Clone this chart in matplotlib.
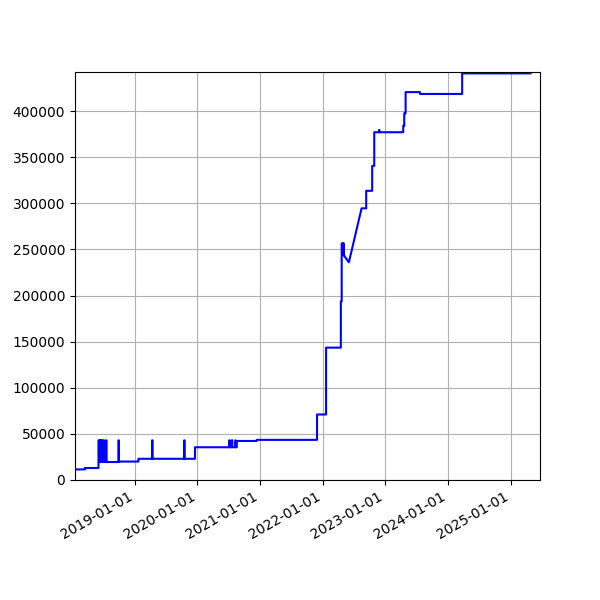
import numpy as np
import pandas as pd
import matplotlib
matplotlib.use("Agg")
import matplotlib.pyplot as plt
import matplotlib.dates as mdates

# dates where the value changes, and the value from that date on
change_dates = [
    "2018-01-17", "2018-03-16", "2018-06-03", "2018-06-08", "2018-06-11",
    "2018-06-16", "2018-06-20", "2018-06-27", "2018-07-03", "2018-07-06",
    "2018-07-17", "2018-07-20", "2018-09-28", "2018-09-30", "2019-01-22",
    "2019-04-12", "2019-04-14", "2019-10-16", "2019-10-18", "2019-12-18",
    "2020-07-05", "2020-07-08", "2020-07-20", "2020-07-23", "2020-08-10",
    "2020-08-12", "2020-08-18", "2020-12-13", "2021-11-29", "2022-01-21",
    "2022-04-17", "2022-04-22", "2022-04-28", "2022-05-01", "2022-05-04",
    "2022-05-07", "2022-06-03", "2022-08-16", "2022-09-12", "2022-10-17",
    "2022-10-29", "2022-11-26", "2022-11-28", "2023-04-16", "2023-04-22",
    "2023-04-30", "2023-07-23", "2024-03-25", "2025-04-28",
]
change_values = [
    11500, 13000, 43000, 19500, 43000,
    19500, 43000, 19500, 43000, 19500,
    43000, 19500, 43000, 20000, 23000,
    43000, 23000, 43000, 23000, 35500,
    43000, 35500, 43000, 35500, 43000,
    35500, 42300, 43500, 71000, 143500,
    193500, 256500, 244000, 256500, 243500,
    243000, 236000, 294500, 313500, 340500,
    377000, 379500, 377000, 384000, 397500,
    420500, 418500, 440800, 440800,
]
# points reached by a straight line (no data in between) instead of a step
linear_to = {"2022-06-03", "2022-08-16"}

x_end = "2025-06-22"
y_top = 442300

xs, ys = [], []
for i, (d, v) in enumerate(zip(change_dates, change_values)):
    t = pd.Timestamp(d)
    if i > 0 and d not in linear_to:
        xs.append(t)
        ys.append(change_values[i - 1])
    xs.append(t)
    ys.append(v)

fig, ax = plt.subplots(figsize=(6, 6), dpi=100)
ax.plot(xs, ys, color="blue")
ax.set_xlim(pd.Timestamp(change_dates[0]), pd.Timestamp(x_end))
ax.set_ylim(0, y_top)
ax.xaxis.set_major_locator(mdates.YearLocator())
ax.xaxis.set_major_formatter(mdates.DateFormatter("%Y-%m-%d"))
ax.grid(True)
fig.autofmt_xdate()

fig.savefig("out.png")
